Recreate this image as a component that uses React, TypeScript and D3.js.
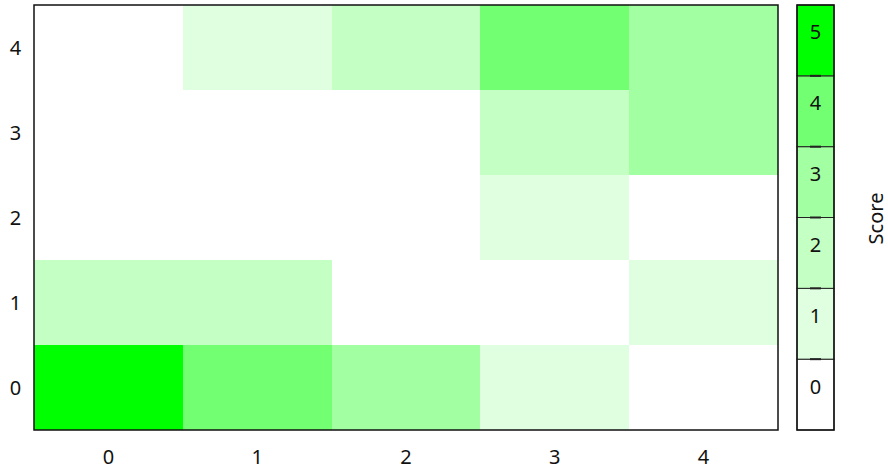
import React from "react";
import * as d3 from "d3";

const xCategories = ["0", "1", "2", "3", "4"];
const yCategories = ["0", "1", "2", "3", "4"];
// scores[row y][col x]
const scoresRow0 = [5, 4, 3, 1, 0];
const scoresRow1 = [2, 2, 0, 0, 1];
const scoresRow2 = [0, 0, 0, 1, 0];
const scoresRow3 = [0, 0, 0, 2, 3];
const scoresRow4 = [0, 1, 2, 4, 3];
const scoreLevels = [0, 1, 2, 3, 4, 5];
const scoreColors = ["#ffffff", "#e0ffe0", "#c4ffc4", "#a2ffa2", "#72ff72", "#00ff00"];
const colorbarLabel = "Score";

const W = 888;
const H = 470;
const left = 34;
const right = 778;
const top = 5;
const bottom = 430;
const cbLeft = 797;
const cbRight = 834;

export default function App() {
  const rows = [scoresRow0, scoresRow1, scoresRow2, scoresRow3, scoresRow4];
  const x = d3.scaleBand<string>().domain(xCategories).range([left, right]);
  const y = d3.scaleBand<string>().domain(yCategories).range([bottom, top]);
  const color = d3.scaleOrdinal<number, string>().domain(scoreLevels).range(scoreColors);
  const cb = d3.scaleBand<number>().domain(scoreLevels).range([bottom, top]);
  const font = "'Noto Sans', 'Open Sans', sans-serif";
  const fs = 20;

  return (
    <svg width={W} height={H} style={{ position: "absolute", left: 0, top: 0 }} fontFamily={font}>
      <rect x={0} y={0} width={W} height={H} fill="#fff" />
      {rows.map((row, yi) =>
        row.map((v, xi) => (
          <rect
            key={`${yi}-${xi}`}
            x={x(xCategories[xi])!}
            y={y(yCategories[yi])!}
            width={x.bandwidth()}
            height={y.bandwidth()}
            fill={color(v)}
            shapeRendering="crispEdges"
          />
        ))
      )}
      <rect x={left} y={top} width={right - left} height={bottom - top} fill="none" stroke="#111" strokeWidth={1.5} />
      {xCategories.map((c) => (
        <text key={c} x={x(c)! + x.bandwidth() / 2} y={464} textAnchor="middle" fontSize={fs} fill="#111">
          {c}
        </text>
      ))}
      {yCategories.map((c) => (
        <text key={c} x={15.5} y={y(c)! + y.bandwidth() / 2 + 7.5} textAnchor="middle" fontSize={fs} fill="#111">
          {c}
        </text>
      ))}
      {scoreLevels.map((s) => (
        <rect
          key={s}
          x={cbLeft}
          y={cb(s)!}
          width={cbRight - cbLeft}
          height={cb.bandwidth()}
          fill={color(s)}
          stroke="#222"
          strokeWidth={1}
        />
      ))}
      {scoreLevels.slice(1).map((s) => (
        <line
          key={s}
          x1={810}
          x2={821}
          y1={cb(s)! + cb.bandwidth()}
          y2={cb(s)! + cb.bandwidth()}
          stroke="#222"
          strokeWidth={2}
        />
      ))}
      {scoreLevels.map((s) => (
        <text key={s} x={(cbLeft + cbRight) / 2} y={cb(s)! + cb.bandwidth() / 2 - 1} textAnchor="middle" fontSize={fs} fill="#111">
          {s}
        </text>
      ))}
      <rect x={cbLeft} y={top} width={cbRight - cbLeft} height={bottom - top} fill="none" stroke="#111" strokeWidth={1.5} />
      <text
        transform={`translate(${883}, ${218.5}) rotate(-90)`}
        textAnchor="middle"
        fontSize={fs}
        fill="#111"
      >
        {colorbarLabel}
      </text>
    </svg>
  );
}
